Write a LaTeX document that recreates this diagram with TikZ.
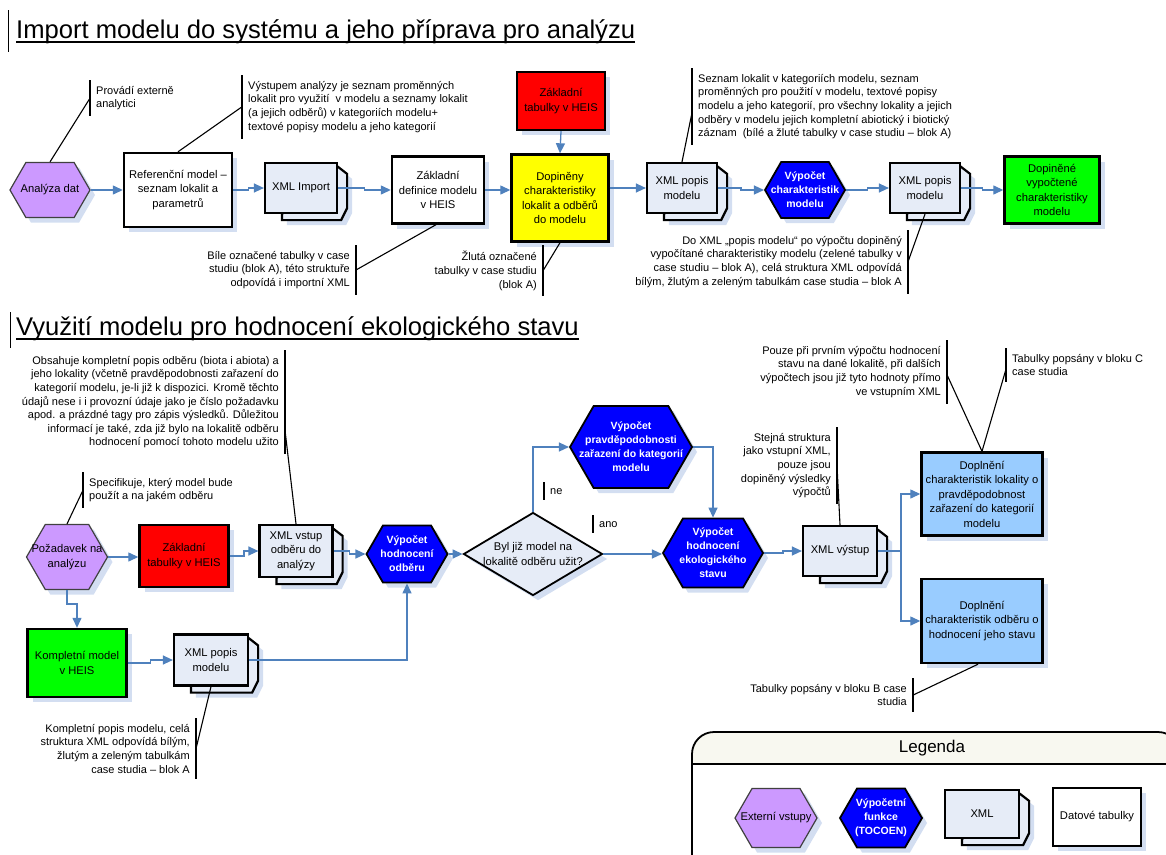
\documentclass[tikz,border=0pt]{standalone}
\usepackage{fontspec}
\setmainfont{Liberation Sans}
\usetikzlibrary{arrows.meta,calc,shapes.geometric,shapes.symbols,shadows,backgrounds}

\definecolor{extpurple}{HTML}{CC99FF}
\definecolor{calcblue}{HTML}{0000FF}
\definecolor{heisred}{HTML}{FF0000}
\definecolor{markyellow}{HTML}{FFFF00}
\definecolor{markgreen}{HTML}{00FF00}
\definecolor{outblue}{HTML}{99CCFF}
\definecolor{xmlfill}{HTML}{E6ECF7}
\definecolor{flowblue}{HTML}{4F81BD}
\definecolor{shadowblue}{HTML}{D3DEF1}
\definecolor{legendhead}{HTML}{F8F8F0}

\newcommand{\boxfont}{\fontsize{11.2}{14.5}\selectfont}
\newcommand{\notefont}{\fontsize{11}{13.6}\selectfont}
\newcommand{\calcfont}{\fontsize{10.5}{14}\selectfont\bfseries}

\tikzset{
  shade box/.style={general shadow={shadow xshift=5pt, shadow yshift=-5pt, fill=shadowblue}},
  extin/.style={signal, signal to=east and west, signal pointer angle=120,
    draw=black!75, line width=1.2pt, fill=extpurple, shade box, inner sep=0pt,
    label={[font=\boxfont, align=center]center:#1}},
  calcfn/.style={signal, signal to=east and west, signal pointer angle=120,
    draw=black, line width=1.8pt, fill=calcblue, shade box, inner sep=0pt,
    label={[font=\calcfont, text=white, align=center]center:#1}},
  datatab/.style={rectangle, draw=black, line width=2.4pt, fill=white, shade box,
    font=\boxfont, align=center, inner sep=2pt},
  xmldoc/.style={rectangle, draw=black, line width=2.2pt, fill=xmlfill,
    font=\boxfont, align=center, inner sep=2pt},
  xmlback/.style={draw=black, line width=2.2pt, fill=xmlfill, shade box},
  decide/.style={diamond, draw=black, line width=1.8pt, fill=xmlfill, shade box, inner sep=0pt,
    label={[font=\boxfont, align=center]center:#1}},
  notel/.style={font=\notefont, align=left, anchor=north west, inner xsep=6pt, inner ysep=6pt},
  noter/.style={font=\notefont, align=right, anchor=north east, inner xsep=6pt, inner ysep=6pt},
  notebar/.style={line width=1.3pt},
  leader/.style={line width=1.1pt},
  flow/.style={draw=flowblue, line width=1.3pt, -{Triangle[length=10pt,width=9pt]}},
  stepline/.style={to path={-| ($(\tikztostart)!0.5!(\tikztotarget)$) |- (\tikztotarget)}},
  headline/.style={font=\fontsize{25.6}{30}\selectfont, anchor=base west, inner sep=0pt},
}

\begin{document}
\begin{tikzpicture}[x=1pt,y=-1pt]
\useasboundingbox (0,0) rectangle (1166,854);

% Titles
\node[headline] (t1) at (16,38) {Import modelu do systému a jeho příprava pro analýzu};
\draw[line width=1.2pt] ($(t1.base west)+(0,4)$) -- ($(t1.base east)+(0,4)$);
\draw[line width=1pt] ($(t1.base west)+(-8,-28)$) -- ($(t1.base west)+(-8,14)$);
\node[headline] (t2) at (16,335) {Využití modelu pro hodnocení ekologického stavu};
\draw[line width=1.2pt] ($(t2.base west)+(0,4)$) -- ($(t2.base east)+(0,4)$);
\draw[line width=1pt] ($(t2.base west)+(-6,-23)$) -- ($(t2.base west)+(-6,13)$);

% Import - nodes
\node[extin={Analýza dat}, minimum width=80pt, minimum height=55pt] (ana) at (50,190) {};
\node[datatab, minimum width=108pt, minimum height=74pt] (ref) at (178,190) {Referenční model –\\seznam lokalit a\\parametrů};
\node[xmldoc, minimum width=72pt, minimum height=50pt] (ximp) at (301,188) {XML Import};
\node[datatab, minimum width=92pt, minimum height=67pt] (zdef) at (438,190) {Základní\\definice modelu\\v HEIS};
\node[datatab, fill=markyellow, minimum width=97pt, minimum height=87pt] (dopl) at (560,198) {Dopiněny\\charakteristiky\\lokalit a odběrů\\do modelu};
\node[datatab, fill=heisred, minimum width=88pt, minimum height=58pt] (ztab) at (561,101) {Základní\\tabulky v HEIS};
\node[xmldoc, minimum width=70pt, minimum height=50pt] (xpop) at (682,188) {XML popis\\modelu};
\node[calcfn={Výpočet\\charakteristik\\modelu}, minimum width=80pt, minimum height=56pt] (vch) at (805,190) {};
\node[xmldoc, minimum width=70pt, minimum height=50pt] (xpop2) at (925,188) {XML popis\\modelu};
\node[datatab, fill=markgreen, minimum width=95pt, minimum height=67pt] (dvch) at (1052,190) {Dopiněné\\vypočtené\\charakteristiky\\modelu};

% Import - notes
\node[notel] (n1) at (90,80) {Provádí externě\\analytici};
\node[notel] (n2) at (242,75) {Výstupem analýzy je seznam proměnných\\lokalit pro využití \ v modelu a seznamy lokalit\\(a jejich odběrů) v kategoriích modelu+\\textové popisy modelu a jeho kategorií};
\node[noter] (n3) at (356,245) {Bíle označené tabulky v case\\studiu (blok A), této struktuře\\odpovídá i importní XML};
\node[noter] (n4) at (543,245) {Žlutá označené\\tabulky v case studiu\\(blok A)};
\node[notel] (n5) at (692,68) {Seznam lokalit v kategoriích modelu, seznam\\proměnných pro použití v modelu, textové popisy\\modelu a jeho kategorií, pro všechny lokality a jejich\\odběry v modelu jejich kompletní abiotický i biotický\\záznam \ (bílé a žluté tabulky v case studiu – blok A)};
\node[noter] (n6) at (908,230) {Do XML „popis modelu“ po výpočtu dopiněný\\vypočítané charakteristiky modelu (zelené tabulky v\\case studiu – blok A), celá struktura XML odpovídá\\bílým, žlutým a zeleným tabulkám case studia – blok A};

% Využití - nodes
\node[extin={Požadavek na\\analýzu}, minimum width=81pt, minimum height=65pt] (poz) at (67,557) {};
\node[datatab, fill=heisred, minimum width=89pt, minimum height=62pt] (ztab2) at (184,556) {Základní\\tabulky v HEIS};
\node[xmldoc, minimum width=73pt, minimum height=52pt] (xvst) at (296,551) {XML vstup\\odběru do\\analýzy};
\node[calcfn={Výpočet\\hodnocení\\odběru}, minimum width=81pt, minimum height=57pt] (vho) at (407,554) {};
\node[decide={Byl již model na\\lokalitě odběru užit?}, minimum width=139pt, minimum height=83pt] (dia) at (533,554) {};
\node[calcfn={Výpočet\\pravděpodobnosti\\zařazení do kategorií\\modelu}, minimum width=122pt, minimum height=82pt] (vpr) at (631,447) {};
\node[calcfn={Výpočet\\hodnocení\\ekologického\\stavu}, minimum width=100pt, minimum height=69pt] (veko) at (713,553) {};
\node[xmldoc, minimum width=74pt, minimum height=50pt] (xvy) at (840,551) {XML výstup};
\node[datatab, fill=outblue, minimum width=121pt, minimum height=83pt] (dlok) at (982,494) {Doplnění\\charakteristik lokality o\\pravděpodobnost\\zařazení do kategorií\\modelu};
\node[datatab, fill=outblue, minimum width=121pt, minimum height=84pt] (dodb) at (982,621) {Doplnění\\charakteristik odběru o\\hodnocení jeho stavu};
\node[datatab, fill=markgreen, minimum width=99pt, minimum height=68pt] (kmod) at (77,663) {Kompletní model\\v HEIS};
\node[xmldoc, minimum width=74pt, minimum height=51pt] (xpm) at (211,660) {XML popis\\modelu};

% Využití - notes
\node[noter] (n7) at (285,350) {Obsahuje kompletní popis odběru (biota i abiota) a\\jeho lokality (včetně pravděpodobnosti zařazení do\\kategorií modelu, je-li již k dispozici. Kromě těchto\\údajů nese i i provozní údaje jako je číslo požadavku\\apod. a prázdné tagy pro zápis výsledků. Důležitou\\informací je také, zda již bylo na lokalitě odběru\\hodnocení pomocí tohoto modelu užito};
\node[notel] (n8) at (83,472) {Specifikuje, který model bude\\použít a na jakém odběru};
\node[noter] (n9) at (947,340) {Pouze při prvním výpočtu hodnocení\\stavu na dané lokalitě, při dalších\\výpočtech jsou již tyto hodnoty přímo\\ve vstupním XML};
\node[notel] (n10) at (1006,348) {Tabulky popsány v bloku C\\case studia};
\node[noter] (n11) at (837,427) {Stejná struktura\\jako vstupní XML,\\pouze jsou\\dopiněný výsledky\\výpočtů};
\node[noter] (n12) at (913,678) {Tabulky popsány v bloku B case\\studia};
\node[noter] (n13) at (196,718) {Kompletní popis modelu, celá\\struktura XML odpovídá bílým,\\žlutým a zeleným tabulkám\\case studia – blok A};
\node[notel] (ne) at (544,482) {ne};
\node[notel] (ano) at (593,515) {ano};

% Legend
\begin{scope}
\clip[rounded corners=22pt] (692,732) rectangle (1180,880);
\fill[legendhead] (692,732) rectangle (1180,764);
\end{scope}
\draw[line width=1.4pt] (692,764) -- (1180,764);
\draw[line width=1.8pt, rounded corners=22pt] (692,732) rectangle (1180,880);
\node[font=\fontsize{17}{20}\selectfont] (leg) at (932,748) {Legenda};
\node[extin={Externí vstupy}, minimum width=82pt, minimum height=59pt] (lext) at (776,818) {};
\node[calcfn={Výpočetní\\funkce\\(TOCOEN)}, minimum width=82pt, minimum height=59pt] (lcalc) at (881,818) {};
\node[xmldoc, minimum width=74pt, minimum height=48pt] (lxml) at (982,814) {XML};
\node[datatab, minimum width=88pt, minimum height=58pt] (ldat) at (1097,817) {Datové tabulky};

% XML back sheets
\begin{scope}[on background layer]
\foreach \n in {ximp,xpop,xpop2,xvst,xvy,xpm,lxml}
  \filldraw[xmlback] ($(\n.south west)+(18,0)$) -- ($(\n.south west)+(18,6)$)
    -- ($(\n.south east)+(3,6)$) -- ($(\n.south east)+(9,-6)$)
    -- ($(\n.north east)+(9,12)$) -- ($(\n.north east)+(0,5)$) -- cycle;
\end{scope}

% Note bars
\foreach \n in {n1,n2,n5,n8,n10,ne,ano}
  \draw[notebar] (\n.north west) -- (\n.south west);
\foreach \n in {n3,n4,n6,n7,n9,n11,n12,n13}
  \draw[notebar] (\n.north east) -- (\n.south east);

% Leaders
\draw[leader] (ana.north) -- (n1.west);
\draw[leader] (ref.north) -- (n2.west);
\draw[leader] ([xshift=-2pt]zdef.south) -- (n3.east);
\draw[leader] (dopl.south) -- (n4.east);
\draw[leader] (xpop.north) -- ([yshift=-6pt]n5.west);
\draw[leader] (xpop2.south) -- (n6.east);
\draw[leader] (xvst.north) -- ([yshift=-28pt]n7.east);
\draw[leader] (poz.north) -- (n8.west);
\draw[leader] (dlok.north) -- ([yshift=-3pt]n9.east);
\draw[leader] (dlok.north) -- ([yshift=-4pt]n10.west);
\draw[leader] (xvy.north) -- (n11.east);
\draw[leader] ([xshift=-4pt]dodb.south) -- (n12.east);
\draw[leader] (xpm.south) -- (n13.east);

% Import - flow
\draw[flow] (ana.east) -- (ref.west);
\draw[flow] (ref.east) to[stepline] (ximp.west);
\draw[flow] (ximp.east) to[stepline] (zdef.west);
\draw[flow] (zdef.east) -- (zdef.east -| dopl.west);
\draw[flow] (ztab.south) -- (dopl.north);
\draw[flow] (xpop.west -| dopl.east) -- (xpop.west);
\draw[flow] (xpop.east) to[stepline] (vch.west);
\draw[flow] (vch.east) to[stepline] (xpop2.west);
\draw[flow] (xpop2.east) to[stepline] (dvch.west);

% Využití - flow
\draw[flow] (poz.east) -- (poz.east -| ztab2.west);
\draw[flow] (poz.south) -- ++(0,14) -| (kmod.north);
\draw[flow] (ztab2.east) to[stepline] (xvst.west);
\draw[flow] (xvst.east) to[stepline] (vho.west);
\draw[flow] (kmod.east) to[stepline] (xpm.west);
\draw[flow] (xpm.east) -| (vho.south);
\draw[flow] (vho.east) -- (dia.west);
\draw[flow] (dia.north) |- (vpr.west);
\draw[flow] (vpr.east) -| (veko.north);
\draw[flow] (dia.east) -- (dia.east -| veko.west);
\draw[flow] (veko.east) to[stepline] (xvy.west);
\draw[flow] (xvy.east) -- ++(23,0) |- (dlok.west);
\draw[flow] (xvy.east) -- ++(23,0) |- (dodb.west);

\end{tikzpicture}
\end{document}
